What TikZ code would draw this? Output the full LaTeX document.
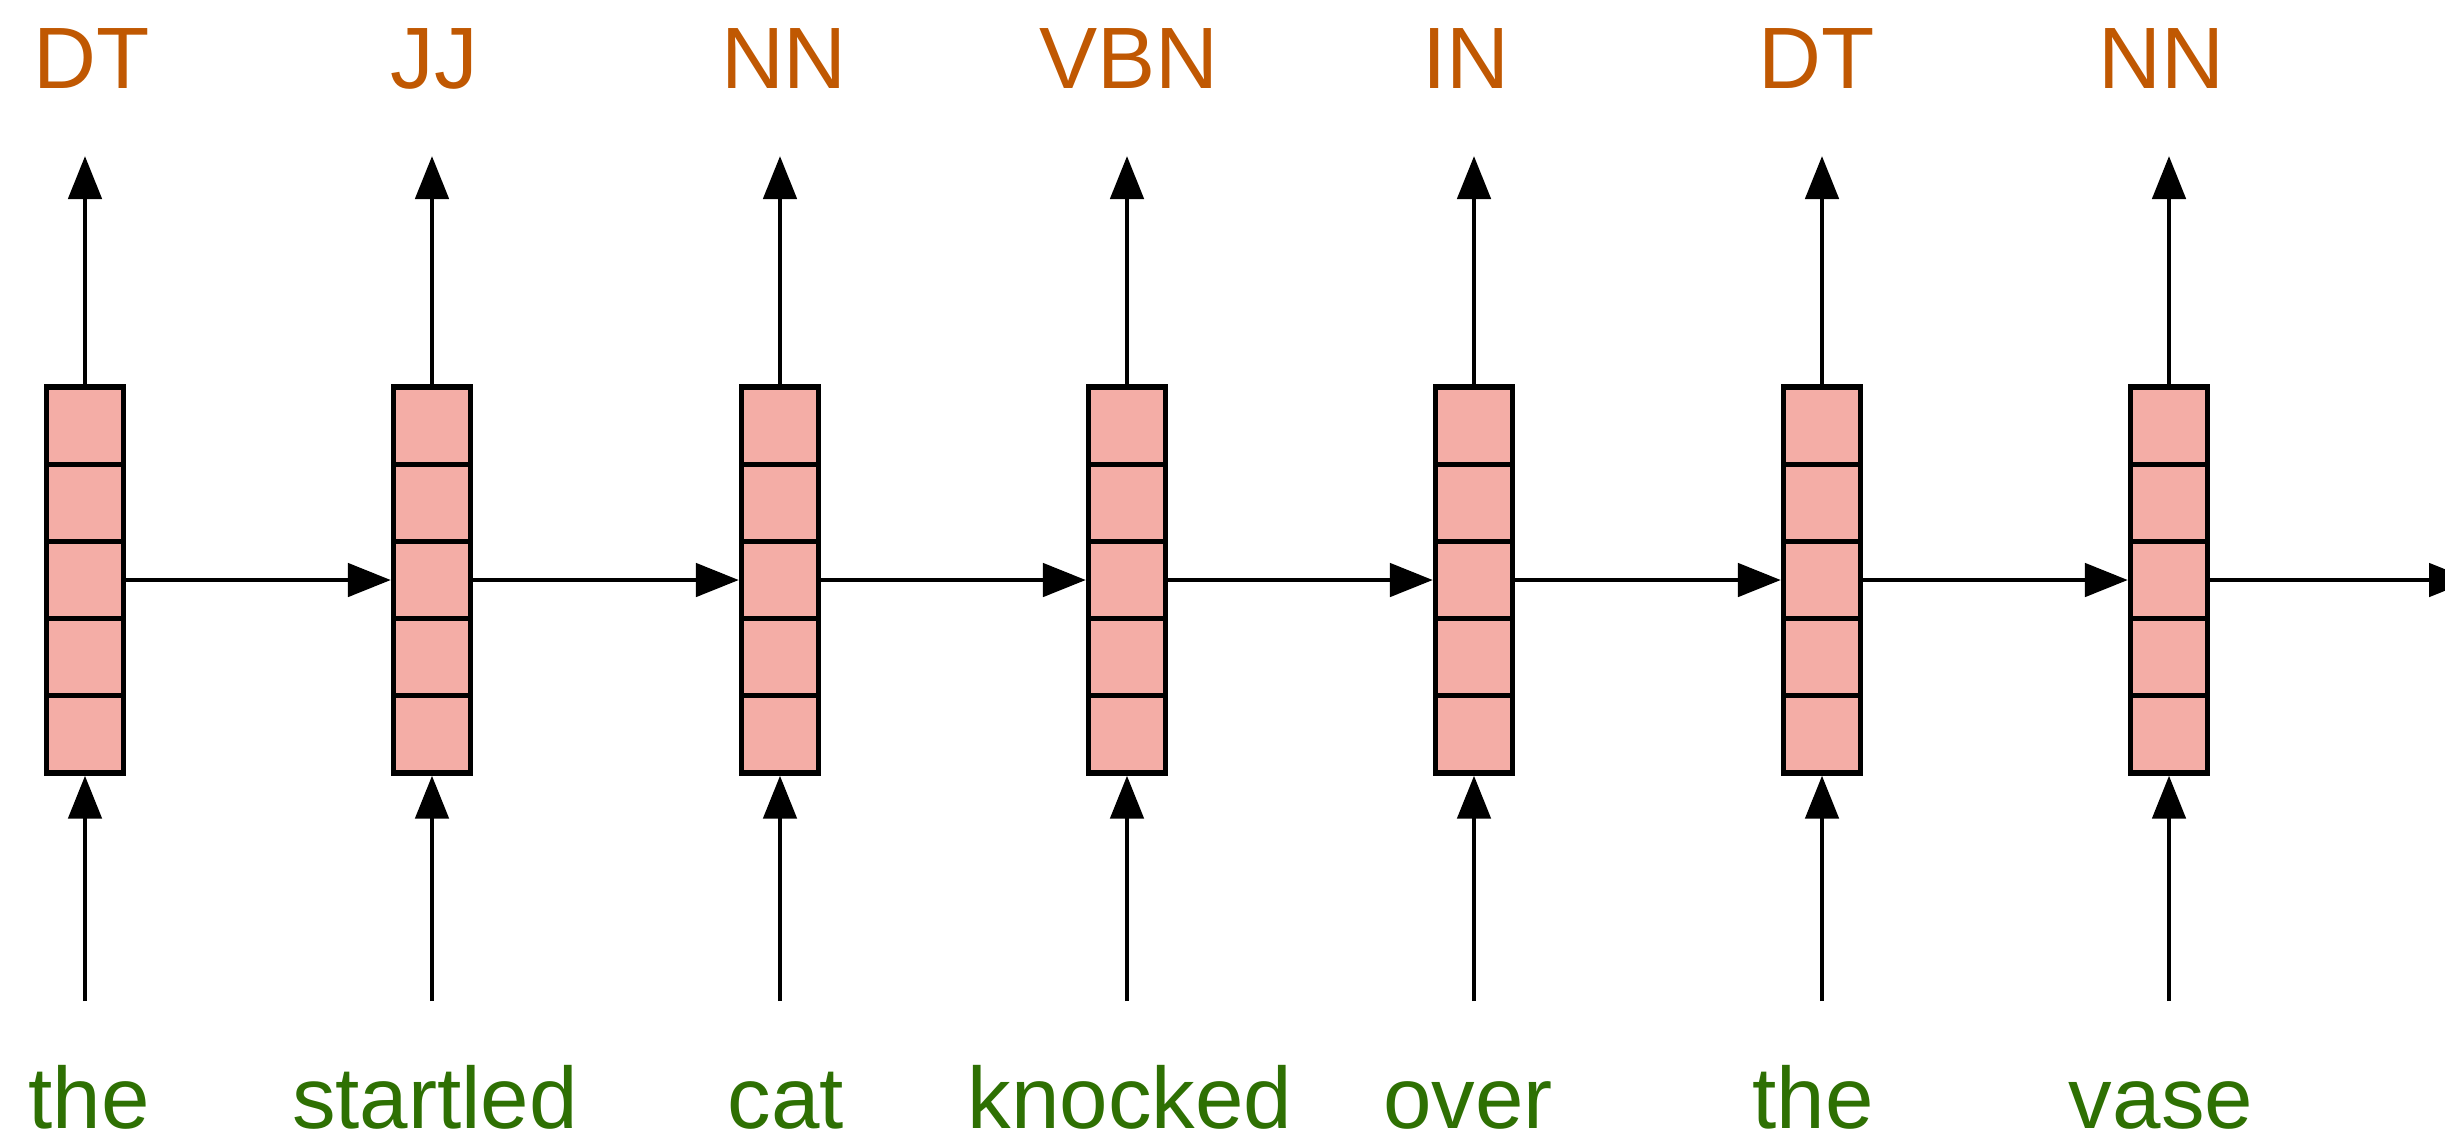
\documentclass[tikz,border=0pt]{standalone}
\usepackage{fontspec}
\setmainfont{Liberation Sans}
\usepackage{xcolor}
\usetikzlibrary{arrows.meta}

\definecolor{tagorange}{RGB}{192,88,2}
\definecolor{wordgreen}{RGB}{46,112,3}
\definecolor{cellpink}{RGB}{244,173,166}

\begin{document}
\begin{tikzpicture}[every node/.style={font=\fontsize{24.8}{30}\selectfont, inner sep=0pt},
    hid/.style={draw, line width=1.5pt, fill=cellpink,
        minimum width=0.77cm, minimum height=3.86cm,
        path picture={\foreach \k in {1,...,4}
            \draw[line width=1.5pt] ([yshift=-\k*0.772cm]path picture bounding box.north west)
                -- ([yshift=-\k*0.772cm]path picture bounding box.north east);}},
    tag/.style={text=tagorange, anchor=base},
    word/.style={text=wordgreen, anchor=base},
    arr/.style={-{Triangle[length=4.3mm, width=3.3mm]}, line width=1.4pt}]
     \useasboundingbox (0,0) rectangle (24.45,-11.39);

     \node[hid] (h1) at (0.85, -5.80) {};
     \node[hid] (h2) at (4.32, -5.80) {};
     \node[hid] (h3) at (7.80, -5.80) {};
     \node[hid] (h4) at (11.27, -5.80) {};
     \node[hid] (h5) at (14.74, -5.80) {};
     \node[hid] (h6) at (18.22, -5.80) {};
     \node[hid] (h7) at (21.69, -5.80) {};

     \node[tag] (t1) at (0.92, -0.88) {DT};
     \node[tag] (t2) at (4.34, -0.88) {JJ};
     \node[tag] (t3) at (7.84, -0.88) {NN};
     \node[tag] (t4) at (11.29, -0.88) {VBN};
     \node[tag] (t5) at (14.66, -0.88) {IN};
     \node[tag] (t6) at (18.17, -0.88) {DT};
     \node[tag] (t7) at (21.61, -0.88) {NN};

     \node[word] (w1) at (0.89, -11.28) {the};
     \node[word] (w2) at (4.35, -11.28) {startled};
     \node[word] (w3) at (7.86, -11.28) {cat};
     \node[word] (w4) at (11.30, -11.28) {knocked};
     \node[word] (w5) at (14.68, -11.28) {over};
     \node[word] (w6) at (18.13, -11.28) {the};
     \node[word] (w7) at (21.61, -11.28) {vase};

     \coordinate (o1) at (0.85, -1.56);
     \coordinate (o2) at (4.32, -1.56);
     \coordinate (o3) at (7.80, -1.56);
     \coordinate (o4) at (11.27, -1.56);
     \coordinate (o5) at (14.74, -1.56);
     \coordinate (o6) at (18.22, -1.56);
     \coordinate (o7) at (21.69, -1.56);

     \coordinate (i1) at (0.85, -10.01);
     \coordinate (i2) at (4.32, -10.01);
     \coordinate (i3) at (7.80, -10.01);
     \coordinate (i4) at (11.27, -10.01);
     \coordinate (i5) at (14.74, -10.01);
     \coordinate (i6) at (18.22, -10.01);
     \coordinate (i7) at (21.69, -10.01);

     \coordinate (e) at (24.72, -5.80);

     \draw[arr] (h1.north) -- (o1);
     \draw[arr] (h2.north) -- (o2);
     \draw[arr] (h3.north) -- (o3);
     \draw[arr] (h4.north) -- (o4);
     \draw[arr] (h5.north) -- (o5);
     \draw[arr] (h6.north) -- (o6);
     \draw[arr] (h7.north) -- (o7);

     \draw[arr] (i1) -- (h1.south);
     \draw[arr] (i2) -- (h2.south);
     \draw[arr] (i3) -- (h3.south);
     \draw[arr] (i4) -- (h4.south);
     \draw[arr] (i5) -- (h5.south);
     \draw[arr] (i6) -- (h6.south);
     \draw[arr] (i7) -- (h7.south);

     \draw[arr] (h1.east) -- (h2.west);
     \draw[arr] (h2.east) -- (h3.west);
     \draw[arr] (h3.east) -- (h4.west);
     \draw[arr] (h4.east) -- (h5.west);
     \draw[arr] (h5.east) -- (h6.west);
     \draw[arr] (h6.east) -- (h7.west);
     \draw[arr] (h7.east) -- (e);
    \end{tikzpicture}
\end{document}
